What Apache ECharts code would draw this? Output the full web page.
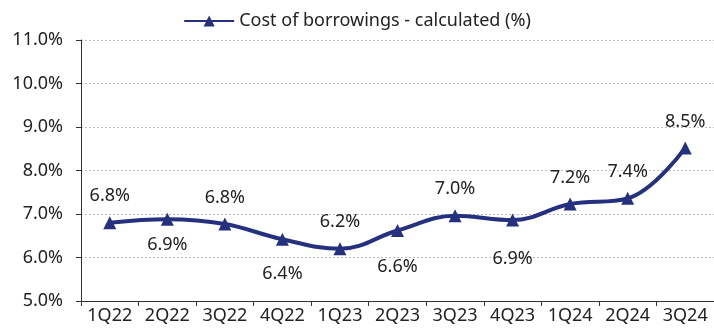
<!DOCTYPE html>
<html><head><meta charset="utf-8">
<script src="https://cdn.jsdelivr.net/npm/echarts@6/dist/echarts.min.js"></script>
<style>html,body{margin:0;padding:0;background:#fff}#c{width:714px;height:329px}</style>
</head><body><div id="c"></div>
<script>
const categories = ['1Q22','2Q22','3Q22','4Q22','1Q23','2Q23','3Q23','4Q23','1Q24','2Q24','3Q24'];
const costOfBorrowings = [6.80, 6.88, 6.77, 6.42, 6.20, 6.62, 6.96, 6.86, 7.23, 7.36, 8.52];
const yTicks = [5, 6, 7, 8, 9, 10, 11];
const seriesName = 'Cost of borrowings - calculated (%)';

const labelPos = ['top','bottom','top','bottom','top','bottom','top','bottom','top','top','top'];
const labelDist = [11, 10, 11, 19, 11, 21, 11, 23, 11, 11, 11];
const FONT = 'Noto Sans';
const navy = '#25317f';

const chart = echarts.init(document.getElementById('c'));
chart.setOption({
  animation: false,
  legend: {
    top: 7, left: 'center',
    itemWidth: 50, itemHeight: 14, itemGap: 6,
    textStyle: {fontFamily: FONT, fontSize: 18, color: '#222'},
    data: [seriesName]
  },
  grid: {left: 81, right: -3, top: 40, bottom: 28},
  xAxis: {
    type: 'category', data: categories, boundaryGap: true,
    axisLine: {lineStyle: {color: '#333', width: 1}},
    axisTick: {show: true, length: 5, interval: 0, lineStyle: {color: '#333'}},
    axisLabel: {fontFamily: FONT, fontSize: 18, color: '#222', margin: 6, interval: 0}
  },
  yAxis: {
    type: 'value', min: yTicks[0], max: yTicks[yTicks.length-1], interval: 1,
    axisLine: {show: true, lineStyle: {color: '#333', width: 1}},
    axisTick: {show: true, length: 5, lineStyle: {color: '#333'}},
    axisLabel: {fontFamily: FONT, fontSize: 18, color: '#222', margin: 18,
      formatter: v => v.toFixed(1) + '%'},
    splitLine: {lineStyle: {color: '#bbb', type: [2, 2], width: 1}}
  },
  series: [{
    name: seriesName, type: 'line', smooth: 0.4,
    data: costOfBorrowings.map((v, i) => ({
      value: v,
      label: {position: labelPos[i], distance: labelDist[i]}
    })),
    symbol: 'triangle', symbolSize: 13,
    lineStyle: {color: navy, width: 4},
    itemStyle: {color: navy},
    label: {show: true, fontFamily: FONT, fontSize: 18, color: '#222',
      formatter: p => p.value.toFixed(1) + '%'}
  }]
});
</script></body></html>
